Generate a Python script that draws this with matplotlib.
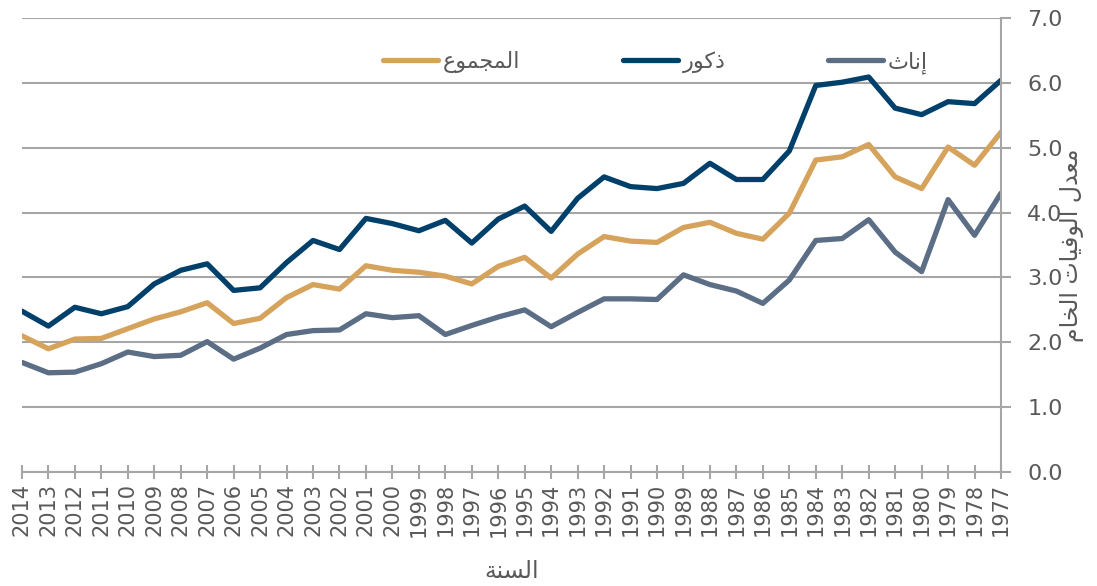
import matplotlib
matplotlib.use('Agg')
import matplotlib.pyplot as plt

years = ['2014', '2013', '2012', '2011', '2010', '2009', '2008', '2007', '2006', '2005',
         '2004', '2003', '2002', '2001', '2000', '1999', '1998', '1997', '1996', '1995',
         '1994', '1993', '1992', '1991', '1990', '1989', '1988', '1987', '1986', '1985',
         '1984', '1983', '1982', '1981', '1980', '1979', '1978', '1977']

total = [2.10, 1.90, 2.05, 2.06, 2.21, 2.36, 2.47, 2.61, 2.29, 2.37, 2.69, 2.89, 2.82, 3.18,
         3.11, 3.08, 3.02, 2.90, 3.17, 3.31, 2.99, 3.36, 3.63, 3.56, 3.54, 3.77, 3.85,
         3.68, 3.59, 3.99, 4.81, 4.86, 5.05, 4.55, 4.37, 5.01, 4.73, 5.24]
males = [2.48, 2.25, 2.54, 2.44, 2.55, 2.90, 3.11, 3.21, 2.80, 2.84, 3.23, 3.57, 3.43, 3.91,
         3.83, 3.72, 3.88, 3.53, 3.90, 4.10, 3.71, 4.22, 4.55, 4.40, 4.37, 4.45, 4.76,
         4.51, 4.51, 4.95, 5.96, 6.01, 6.09, 5.61, 5.51, 5.71, 5.68, 6.04]
females = [1.69, 1.53, 1.54, 1.67, 1.85, 1.78, 1.80, 2.01, 1.74, 1.91, 2.12, 2.18, 2.19, 2.44,
           2.38, 2.41, 2.12, 2.26, 2.39, 2.50, 2.24, 2.46, 2.67, 2.67, 2.66, 3.04, 2.89,
           2.79, 2.60, 2.96, 3.57, 3.60, 3.89, 3.39, 3.09, 4.20, 3.65, 4.30]

# matplotlib does not shape Arabic, so map letters to presentation forms
# (isolated, final, initial, medial) and reverse for right-to-left display
FORMS = {
    'ا': ('\uFE8D', '\uFE8E'), 'إ': ('\uFE87', '\uFE88'),
    'د': ('\uFEA9', '\uFEAA'), 'ذ': ('\uFEAB', '\uFEAC'),
    'ر': ('\uFEAD', '\uFEAE'), 'و': ('\uFEED', '\uFEEE'),
    'ة': ('\uFE93', '\uFE94'),
    'ت': ('\uFE95', '\uFE96', '\uFE97', '\uFE98'),
    'ث': ('\uFE99', '\uFE9A', '\uFE9B', '\uFE9C'),
    'ج': ('\uFE9D', '\uFE9E', '\uFE9F', '\uFEA0'),
    'خ': ('\uFEA5', '\uFEA6', '\uFEA7', '\uFEA8'),
    'س': ('\uFEB1', '\uFEB2', '\uFEB3', '\uFEB4'),
    'ع': ('\uFEC9', '\uFECA', '\uFECB', '\uFECC'),
    'ف': ('\uFED1', '\uFED2', '\uFED3', '\uFED4'),
    'ك': ('\uFED9', '\uFEDA', '\uFEDB', '\uFEDC'),
    'ل': ('\uFEDD', '\uFEDE', '\uFEDF', '\uFEE0'),
    'م': ('\uFEE1', '\uFEE2', '\uFEE3', '\uFEE4'),
    'ن': ('\uFEE5', '\uFEE6', '\uFEE7', '\uFEE8'),
    'ي': ('\uFEF1', '\uFEF2', '\uFEF3', '\uFEF4'),
}


def shape(text):
    out = []
    for i, ch in enumerate(text):
        f = FORMS.get(ch)
        if f is None:
            out.append(ch)
            continue
        prev = text[i - 1] if i > 0 else ''
        nxt = text[i + 1] if i + 1 < len(text) else ''
        join_prev = prev in FORMS and len(FORMS[prev]) == 4
        join_next = len(f) == 4 and nxt in FORMS
        out.append(f[(1 if join_prev else 0) + (2 if join_next else 0)])
    return ''.join(reversed(out))


plt.rcParams['font.family'] = ['DejaVu Sans']
txt = '#595959'
grid = '#a6a6a6'

fig = plt.figure(figsize=(10.97, 5.86), dpi=100)
ax = fig.add_axes([0.020, 0.1945, 0.8925, 0.7748])

ax.plot(years, total, color='#d6a35c', lw=3.8, label=shape('المجموع'), solid_capstyle='round')
ax.plot(years, males, color='#00406b', lw=3.8, label=shape('ذكور'), solid_capstyle='round')
ax.plot(years, females, color='#5b6e85', lw=3.8, label=shape('إناث'), solid_capstyle='round')

ax.set_xlim(0, len(years) - 1)
ax.set_ylim(0, 7)
ax.set_yticks([0, 1, 2, 3, 4, 5, 6, 7])
ax.set_yticklabels(['%.1f' % v for v in ax.get_yticks()])
ax.yaxis.tick_right()
ax.grid(axis='y', color=grid, lw=1.5)
ax.set_axisbelow(True)

for s in ['top', 'left']:
    ax.spines[s].set_visible(False)
for s in ['right', 'bottom']:
    ax.spines[s].set_color(grid)
    ax.spines[s].set_linewidth(1.5)

ax.tick_params(axis='y', colors=grid, labelcolor=txt, labelsize=16, length=7, width=1.5, pad=12)
ax.tick_params(axis='x', colors=grid, labelcolor=txt, labelsize=15, length=10, width=1.5,
               direction='inout', pad=3, labelrotation=90)

ax.text(1.072, 0.5, shape('معدل الوفيات الخام'), transform=ax.transAxes, rotation=90,
        ha='center', va='center', fontsize=17, color=txt)
fig.text(0.466, 0.025, shape('السنة'), ha='center', va='center', fontsize=17, color=txt)

ax.legend(loc='center', bbox_to_anchor=(0.647, 0.902), ncol=3, frameon=False, fontsize=16,
          labelcolor=txt, handlelength=2.5, handletextpad=0.2, columnspacing=4.6)

fig.savefig('out.png', dpi=100)
